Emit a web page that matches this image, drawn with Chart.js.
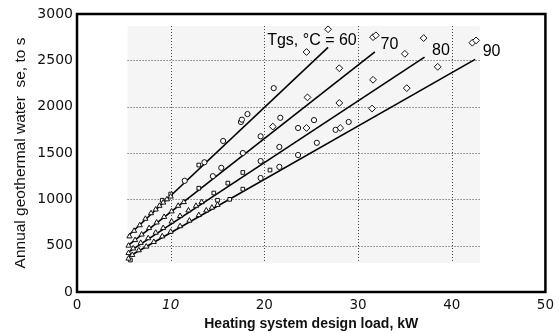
<!DOCTYPE html>
<html>
<head>
<meta charset="utf-8">
<script src="https://cdn.jsdelivr.net/npm/chart.js@4.4.1/dist/chart.umd.min.js"></script>
<style>
  html, body { margin: 0; padding: 0; background: #fff; }
  #wrap { width: 559px; height: 333px; }
</style>
</head>
<body>
<div id="wrap"><canvas id="chart"></canvas></div>
<script>
// supply temperatures of the four fitted lines
const temps = [60, 70, 80, 90];

// fitted lines, [load kW, water use]
const fit60 = [[5.5, 610], [26.8, 2640]];
const fit70 = [[5.5, 505], [31.8, 2590]];
const fit80 = [[5.5, 430], [37.1, 2535]];
const fit90 = [[5.5, 380], [42.5, 2510]];

// measured points, grouped by marker
const triangles = [
  [5.6, 600], [6.1, 660], [6.7, 720], [7.3, 790], [7.9, 850], [8.4, 890], [8.8, 930], [9.2, 965], [9.6, 1000], [10.0, 1030],
  [5.5, 500], [6.2, 560], [6.9, 620], [7.7, 690], [8.5, 750], [9.3, 810], [10.1, 870], [10.8, 930], [11.4, 970],
  [5.5, 420], [6.0, 470], [6.8, 530], [7.6, 580], [8.4, 640], [9.2, 690], [10.1, 760], [11.0, 820], [11.9, 880], [12.7, 930], [13.3, 970],
  [5.5, 360], [5.9, 400], [6.6, 450], [7.4, 490], [8.2, 540], [9.1, 600], [10.0, 650], [11.0, 710], [12.0, 770], [13.0, 830], [13.8, 880], [14.4, 910], [15.0, 940]
];
const squares = [
  [5.7, 345], [9.1, 990], [10.0, 1057], [13.0, 1370], [13.0, 1120], [14.6, 1068], [16.1, 1175],
  [17.7, 1110], [17.7, 1290], [20.6, 1316], [15.0, 990], [16.3, 1000]
];
const circles = [
  [11.5, 1200], [13.6, 1400], [15.6, 1630], [17.5, 1835], [17.6, 1860], [18.2, 1920], [21.0, 2200],
  [14.5, 1250], [15.4, 1340], [17.7, 1500], [19.6, 1680], [21.7, 1880],
  [19.6, 1413], [21.6, 1565], [23.6, 1770], [25.3, 1855],
  [21.6, 1350], [23.6, 1478], [25.6, 1610], [27.6, 1750], [29.0, 1835], [19.6, 1230]
];
const diamonds = [
  [24.5, 2590], [26.8, 2835], [24.6, 2100], [28.0, 2415], [31.6, 2750], [31.9, 2770], [20.9, 1785],
  [24.5, 1770], [28.1, 1770], [28.0, 2040], [31.6, 2290], [31.5, 1980], [35.0, 2570], [37.0, 2740],
  [38.5, 2430], [35.2, 2200], [42.2, 2690], [42.6, 2715]
];

const xTicks = [0, 10, 20, 30, 40, 50];
const yTicks = [0, 500, 1000, 1500, 2000, 2500, 3000];

const toXY = arr => arr.map(p => ({ x: p[0], y: p[1] }));

function fitLine(arr) {
  return {
    data: toXY(arr), showLine: true, pointRadius: 0,
    borderColor: '#000', borderWidth: 1.6, order: 1
  };
}
function markers(arr, style, r) {
  return {
    data: toXY(arr), pointStyle: style, pointRadius: r,
    pointBackgroundColor: '#fff', pointBorderColor: '#111', pointBorderWidth: 1, order: 0
  };
}

// light panel with dotted grid behind the data, frame and line labels on top
const panel = {
  id: 'panel',
  beforeDatasetsDraw(chart) {
    const { ctx, scales: { x, y } } = chart;
    const l = x.getPixelForValue(5.4), r = x.getPixelForValue(43.0);
    const t = y.getPixelForValue(2870), b = y.getPixelForValue(313);
    ctx.save();
    ctx.fillStyle = '#f5f5f5';
    ctx.fillRect(l, t, r - l, b - t);
    ctx.strokeStyle = '#444';
    ctx.lineWidth = 1;
    ctx.setLineDash([1, 2]);
    ctx.beginPath();
    yTicks.slice(1, -1).forEach(v => {
      const py = Math.round(y.getPixelForValue(v)) + 0.5;
      ctx.moveTo(l, py); ctx.lineTo(r, py);
    });
    xTicks.slice(1, -1).forEach(v => {
      const px = Math.round(x.getPixelForValue(v)) + 0.5;
      ctx.moveTo(px, t); ctx.lineTo(px, b);
    });
    ctx.stroke();
    ctx.restore();
  },
  afterDraw(chart) {
    const { ctx, chartArea: a, scales: { x, y } } = chart;
    ctx.save();
    ctx.strokeStyle = '#000';
    ctx.lineWidth = 2.5;
    ctx.strokeRect(a.left, a.top, a.right - a.left, a.bottom - a.top);

    const labelAt = [[20.3, 2718], [32.4, 2665], [37.9, 2610], [43.3, 2590]];
    ctx.fillStyle = '#000';
    ctx.font = '16px "Liberation Sans", Arial, sans-serif';
    ctx.textBaseline = 'middle';
    temps.forEach((tc, i) => {
      const txt = i === 0 ? 'Tgs, \u00B0C = ' + tc : String(tc);
      ctx.fillText(txt, x.getPixelForValue(labelAt[i][0]), y.getPixelForValue(labelAt[i][1]));
    });
    ctx.restore();
  }
};

new Chart(document.getElementById('chart'), {
  type: 'scatter',
  data: {
    datasets: [
      fitLine(fit60), fitLine(fit70), fitLine(fit80), fitLine(fit90),
      markers(triangles, 'triangle', 3),
      markers(squares, 'rect', 2.6),
      markers(circles, 'circle', 2.6),
      markers(diamonds, 'rectRot', 3.4)
    ]
  },
  options: {
    responsive: true,
    maintainAspectRatio: false,
    animation: false,
    layout: { autoPadding: false, padding: { top: 14, right: 7, left: 0, bottom: 0 } },
    plugins: { legend: { display: false }, tooltip: { enabled: false } },
    scales: {
      x: {
        type: 'linear', min: 0, max: 50,
        afterBuildTicks: s => { s.ticks = xTicks.map(v => ({ value: v })); },
        afterFit: s => { s.height = 41; },
        grid: { display: false, drawTicks: false },
        border: { display: false },
        ticks: {
          color: '#111', padding: 5,
          callback: v => String(v),
          font: c => ({ family: '"DejaVu Sans", Verdana, sans-serif', size: 13.5, style: c.tick && c.tick.value === 10 ? 'italic' : 'normal' })
        },
        title: {
          display: true, text: 'Heating system design load, kW', color: '#111',
          font: { family: '"Liberation Sans", Arial, sans-serif', size: 14, weight: 'bold' },
          padding: { top: 0, bottom: 0 }
        }
      },
      y: {
        type: 'linear', min: 0, max: 3000,
        afterBuildTicks: s => { s.ticks = yTicks.map(v => ({ value: v })); },
        afterFit: s => { s.width = 77; },
        grid: { display: false, drawTicks: false },
        border: { display: false },
        ticks: {
          color: '#111', padding: 4,
          callback: v => String(v),
          font: { family: '"DejaVu Sans", Verdana, sans-serif', size: 14 }
        },
        title: {
          display: true, text: 'Annual geothermal water  se, to s', color: '#111',
          font: { family: '"Liberation Sans", Arial, sans-serif', size: 15.5 },
          padding: { top: 11, bottom: 0 }
        }
      }
    }
  },
  plugins: [panel]
});
</script>
</body>
</html>
